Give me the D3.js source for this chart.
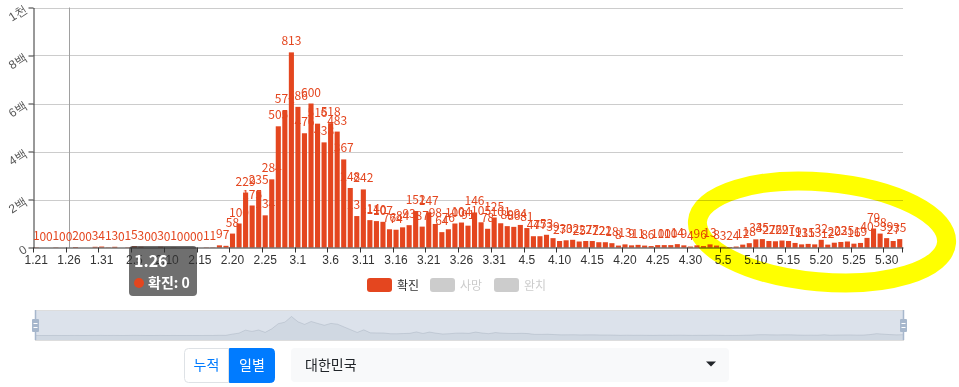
<!DOCTYPE html>
<html>
<head>
<meta charset="utf-8">
<script src="https://cdn.jsdelivr.net/npm/d3@7"></script>
<style>
  body { margin: 0; background: #fff; }
  svg { display: block; font-family: "Noto Sans CJK KR", "Noto Sans", sans-serif; }
</style>
</head>
<body>
<div id="chart"></div>
<script>
// DATA: daily confirmed cases, one array per month
const janStart = 21;
const confirmedJan = [1, 0, 0, 1, 0, 0, 2, 0, 0, 3, 4];
const confirmedFeb = [1, 3, 0, 1, 5, 3, 0, 0, 3, 0, 1, 0, 0, 0, 0, 1, 1, 9, 7, 58,
    100, 229, 175, 235, 134, 284, 505, 571, 813];
const confirmedMar = [586, 476, 600, 516, 438, 518, 483, 367, 248, 131, 242, 114, 110, 107, 76, 74,
    84, 93, 152, 87, 147, 98, 64, 76, 100, 104, 91, 146, 105, 78, 125];
const confirmedApr = [101, 89, 86, 94, 81, 47, 47, 53, 39, 27, 30, 32, 25, 27, 27, 22, 22, 18, 8, 13,
    9, 11, 8, 6, 10, 10, 10, 14, 9, 4];
const confirmedMay = [9, 6, 13, 8, 3, 2, 4, 12, 18, 34, 35, 27, 26, 29, 27, 19, 13, 15, 13, 32,
    12, 20, 23, 25, 16, 19, 40, 79, 58, 39, 27];
const confirmedJun = [35];

const yTickValues = [0, 200, 400, 600, 800, 1000];
const yTickLabels = ["0", "2백", "4백", "6백", "8백", "1천"];
const legendNames = ["확진", "사망", "완치"];
const legendActive = [true, false, false];
const hoverDate = "1.26";
const modeButtons = ["누적", "일별"];
const countryName = "대한민국";

// build flat table from the month arrays
const months = [
    [1, janStart, confirmedJan], [2, 1, confirmedFeb], [3, 1, confirmedMar],
    [4, 1, confirmedApr], [5, 1, confirmedMay], [6, 1, confirmedJun]
];
const data = months.flatMap(([m, start, arr]) =>
    arr.map((v, i) => ({ date: `${m}.${start + i}`, value: v })));
const dates = data.map(d => d.date);

const red = "#e4461f";
const W = 959, H = 387;
const plotL = 33, plotR = 903, plotT = 7.5, plotB = 247.5;

const svg = d3.select("#chart").append("svg")
    .attr("width", W).attr("height", H);

// SCALES
const x = d3.scaleBand().domain(dates).range([plotL, plotR])
    .paddingInner(0.22).paddingOuter(0.11);
const step = x.step();
const cx = d => x(d) + x.bandwidth() / 2;
const y = d3.scaleLinear().domain([0, 1000]).range([plotB, plotT]);

// GRID
svg.append("g").selectAll("line").data(yTickValues.slice(1)).join("line")
    .attr("x1", plotL).attr("x2", plotR)
    .attr("y1", d => Math.round(y(d)) + 0.5).attr("y2", d => Math.round(y(d)) + 0.5)
    .attr("stroke", "#ccc");

// axis pointer
svg.append("line")
    .attr("x1", Math.round(cx(hoverDate)) + 0.5).attr("x2", Math.round(cx(hoverDate)) + 0.5)
    .attr("y1", plotT).attr("y2", plotB)
    .attr("stroke", "#a0a0a0");

// Y AXIS
const yAxis = svg.append("g")
    .attr("transform", `translate(${plotL + 0.5},0)`)
    .call(d3.axisLeft(y).tickValues(yTickValues)
        .tickFormat((d, i) => yTickLabels[i]).tickSize(5).tickSizeOuter(0));
yAxis.select(".domain").attr("stroke", "#333");
yAxis.selectAll("line").attr("stroke", "#333");
yAxis.selectAll("text")
    .attr("x", 0).attr("dy", "0.35em")
    .attr("transform", "translate(-8,0) rotate(-33)")
    .attr("fill", "#555").style("font-size", "12px").style("font-family", null);

// BARS + LABELS (label drawn with its bar so later bars cover it)
const barG = svg.append("g").selectAll("g").data(data).join("g");
barG.append("rect")
    .attr("x", d => x(d.date)).attr("width", x.bandwidth())
    .attr("y", d => y(d.value)).attr("height", d => plotB - y(d.value))
    .attr("fill", red);
barG.append("text")
    .attr("x", d => cx(d.date)).attr("y", d => y(d.value) - 7)
    .attr("text-anchor", "middle")
    .attr("fill", red).style("font-size", "12px")
    .text(d => d.value);

// X AXIS
const labelDates = dates.filter((d, i) => i % 5 === 0);
const xAxis = svg.append("g")
    .attr("transform", `translate(0,${plotB})`)
    .call(d3.axisBottom(x).tickValues(labelDates).tickSize(0).tickSizeOuter(0).tickPadding(8));
xAxis.select(".domain").attr("stroke", "#333");
xAxis.selectAll("text").attr("fill", "#333").style("font-size", "12px").style("font-family", null);
xAxis.selectAll("line.boundary").data(labelDates.concat([null])).join("line")
    .attr("class", "boundary")
    .attr("x1", d => d ? Math.round(cx(d) - step / 2) + 0.5 : plotR - 0.5)
    .attr("x2", d => d ? Math.round(cx(d) - step / 2) + 0.5 : plotR - 0.5)
    .attr("y1", 0).attr("y2", 5).attr("stroke", "#333");

// LEGEND
const legendX = [367, 430, 494];
const lg = svg.append("g").selectAll("g").data(legendNames).join("g")
    .attr("transform", (d, i) => `translate(${legendX[i]},278)`);
lg.append("rect").attr("width", 25).attr("height", 14).attr("rx", 3)
    .attr("fill", (d, i) => legendActive[i] ? red : "#ccc");
lg.append("text").attr("x", 30).attr("y", 11.5)
    .attr("fill", (d, i) => legendActive[i] ? "#333" : "#ccc")
    .style("font-size", "12px").text(d => d);

// DATA ZOOM SLIDER
const sx = d3.scalePoint().domain(dates).range([35, 903]);
const sy = d3.scaleLinear().domain([0, d3.max(data, d => d.value)]).range([335.5, 316.5]);
const slider = svg.append("g");
slider.append("path").datum(data)
    .attr("d", d3.area().x(d => sx(d.date)).y0(340).y1(d => sy(d.value)))
    .attr("fill", "rgba(47,69,84,0.09)");
slider.append("path").datum(data)
    .attr("d", d3.line().x(d => sx(d.date)).y(d => sy(d.value)))
    .attr("fill", "none").attr("stroke", "rgba(47,69,84,0.3)").attr("stroke-width", 0.6);
slider.append("rect").attr("x", 35).attr("y", 310).attr("width", 868).attr("height", 30)
    .attr("fill", "rgba(167,183,204,0.4)");
slider.append("rect").attr("x", 35.5).attr("y", 310.5).attr("width", 868).attr("height", 30)
    .attr("fill", "none").attr("stroke", "#ddd");
[35, 903].forEach(hx => {
    const h = slider.append("g").attr("transform", `translate(${hx},0)`);
    h.append("line").attr("x1", 0.5).attr("x2", 0.5).attr("y1", 310).attr("y2", 340)
        .attr("stroke", "#a7b7cc").attr("stroke-width", 1.5);
    h.append("rect").attr("x", -3).attr("y", 319).attr("width", 7).attr("height", 13).attr("rx", 1)
        .attr("fill", "#a7b7cc");
    [323.5, 327.5].forEach(ly => h.append("line").attr("x1", -1.5).attr("x2", 2.5)
        .attr("y1", ly).attr("y2", ly).attr("stroke", "#fff"));
});

// BUTTONS
const btnX = [184, 229], btnW = [45, 46];
const btns = svg.append("g").selectAll("g").data(modeButtons).join("g");
btns.append("path")
    .attr("d", (d, i) => {
        const x0 = btnX[i] + 0.5, x1 = btnX[i] + btnW[i] - 0.5, y0 = 348.5, y1 = 382.5, r = 4;
        return i === 0
            ? `M${x1},${y0}H${x0 + r}Q${x0},${y0} ${x0},${y0 + r}V${y1 - r}Q${x0},${y1} ${x0 + r},${y1}H${x1}Z`
            : `M${x0},${y0}H${x1 - r}Q${x1},${y0} ${x1},${y0 + r}V${y1 - r}Q${x1},${y1} ${x1 - r},${y1}H${x0}Z`;
    })
    .attr("fill", (d, i) => i === 1 ? "#007bff" : "#fff")
    .attr("stroke", (d, i) => i === 1 ? "#007bff" : "#dee2e6");
btns.append("text")
    .attr("x", (d, i) => btnX[i] + btnW[i] / 2).attr("y", 370)
    .attr("text-anchor", "middle").style("font-size", "14px")
    .attr("fill", (d, i) => i === 1 ? "#fff" : "#007bff")
    .text(d => d);

// COUNTRY SELECT
svg.append("rect").attr("x", 291).attr("y", 348).attr("width", 438).attr("height", 34).attr("rx", 4)
    .attr("fill", "#f8f9fa");
svg.append("text").attr("x", 305).attr("y", 370).style("font-size", "14px")
    .attr("fill", "#212529").text(countryName);
svg.append("path").attr("d", "M706,361.5L716,361.5L711,366.5Z").attr("fill", "#212529");

// TOOLTIP
const hover = data.find(d => d.date === hoverDate);
const tip = svg.append("g").attr("transform", "translate(129,246)");
tip.append("rect").attr("width", 68).attr("height", 50).attr("rx", 4)
    .attr("fill", "rgba(50,50,50,0.7)");
tip.append("text").attr("x", 5).attr("y", 21).attr("fill", "#fff")
    .style("font-size", "16px").style("font-weight", "bold").text(hover.date);
tip.append("circle").attr("cx", 10).attr("cy", 37).attr("r", 5).attr("fill", red);
tip.append("text").attr("x", 19).attr("y", 42).attr("fill", "#fff")
    .style("font-size", "14px").style("font-weight", "bold").text(`${legendNames[0]}: ${hover.value}`);

// yellow highlighter loop drawn over the May section
svg.append("ellipse")
    .attr("cx", 822).attr("cy", 232).attr("rx", 125).attr("ry", 50)
    .attr("transform", "rotate(5,822,232)")
    .attr("fill", "none").attr("stroke", "#ffff00").attr("stroke-width", 19)
    .style("mix-blend-mode", "multiply");
</script>
</body>
</html>
